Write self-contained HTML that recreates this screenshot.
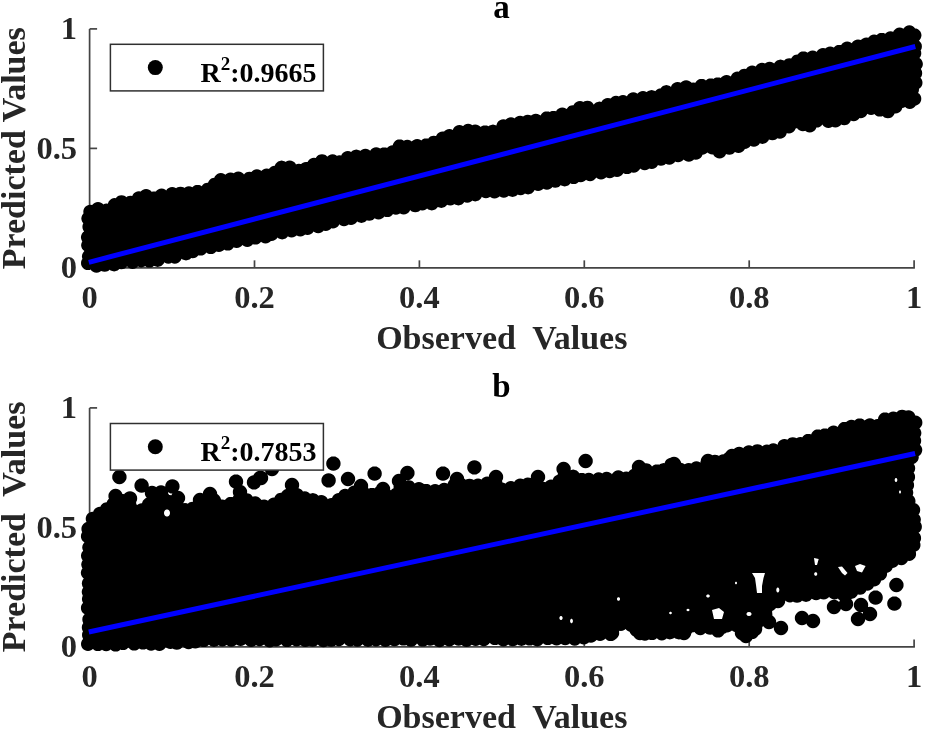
<!DOCTYPE html>
<html><head><meta charset="utf-8"><style>
html,body{margin:0;padding:0;background:#fff;}
svg{display:block;}
text{font-family:"Liberation Serif","Times New Roman",serif;font-weight:bold;}
.tk{font-size:32.5px;fill:#262626;}
.lb{font-size:34px;fill:#262626;}
.tt{font-size:33px;fill:#000;}
.lg{font-size:28px;fill:#000;}
.sup{font-size:19px;}
</style></head><body>
<svg width="925" height="730" viewBox="0 0 925 730">
<rect width="925" height="730" fill="#fff"/>
<line x1="89.6" y1="28.9" x2="97.1" y2="28.9" stroke="#444" stroke-width="1.7"/>
<line x1="89.6" y1="148.4" x2="97.1" y2="148.4" stroke="#444" stroke-width="1.7"/>
<line x1="89.6" y1="267.9" x2="97.1" y2="267.9" stroke="#444" stroke-width="1.7"/>
<line x1="914.1" y1="267.85" x2="914.1" y2="260.35" stroke="#444" stroke-width="1.7"/>
<line x1="749.2" y1="267.85" x2="749.2" y2="260.35" stroke="#444" stroke-width="1.7"/>
<line x1="584.3" y1="267.85" x2="584.3" y2="260.35" stroke="#444" stroke-width="1.7"/>
<line x1="419.4" y1="267.85" x2="419.4" y2="260.35" stroke="#444" stroke-width="1.7"/>
<line x1="254.5" y1="267.85" x2="254.5" y2="260.35" stroke="#444" stroke-width="1.7"/>
<line x1="89.6" y1="267.85" x2="89.6" y2="260.35" stroke="#444" stroke-width="1.7"/>
<path d="M89.6,28.9 V267.85 H914.9" fill="none" stroke="#444" stroke-width="1.7"/>
<g fill="#000"><path fill-rule="evenodd" d="M236.5,171.8 L234.8,172.5 L233.8,173.3 L232.4,172.7 L230.5,172.5 L228.7,172.7 L227.0,173.4 L225.6,174.5 L225.4,174.8 L224.3,174.0 L222.6,173.3 L220.8,173.1 L219.0,173.3 L217.3,174.0 L215.9,175.2 L214.8,176.6 L214.3,177.7 L212.9,177.9 L211.2,178.6 L209.8,179.7 L208.7,181.2 L208.0,182.7 L207.7,182.7 L205.9,182.9 L204.2,183.6 L202.8,184.8 L201.7,186.2 L201.6,186.3 L201.1,185.8 L199.4,185.1 L197.6,184.9 L195.8,185.1 L194.1,185.8 L192.6,186.9 L192.4,187.2 L192.4,187.2 L190.7,186.5 L188.9,186.3 L187.1,186.5 L185.4,187.2 L184.4,187.9 L184.0,187.6 L182.3,186.9 L180.5,186.7 L178.7,186.9 L177.0,187.6 L176.1,188.3 L175.7,187.9 L174.0,187.2 L172.2,187.0 L170.4,187.2 L168.7,187.9 L167.2,189.0 L166.2,190.4 L165.1,189.5 L163.4,188.8 L161.6,188.6 L159.8,188.8 L158.1,189.5 L156.7,190.6 L155.9,191.6 L154.4,191.4 L152.6,191.6 L151.8,192.0 L151.1,191.1 L149.6,189.9 L147.9,189.2 L146.1,189.0 L144.3,189.2 L142.6,189.9 L141.2,191.1 L140.8,191.5 L140.7,191.5 L138.9,191.3 L137.1,191.5 L135.4,192.2 L133.9,193.3 L132.8,194.8 L132.3,195.9 L130.6,195.7 L128.8,195.9 L127.1,196.6 L126.4,197.2 L125.0,196.1 L123.3,195.4 L121.5,195.2 L119.7,195.4 L118.0,196.1 L116.6,197.2 L115.8,198.2 L114.7,198.1 L112.9,198.3 L111.2,199.0 L109.8,200.2 L108.7,201.6 L108.0,203.3 L107.9,203.8 L106.6,203.6 L104.8,203.8 L103.3,204.5 L103.0,204.0 L101.5,202.9 L99.8,202.2 L98.0,201.9 L96.2,202.2 L94.5,202.9 L93.1,204.0 L92.2,205.1 L92.1,205.0 L90.3,204.8 L88.5,205.0 L86.8,205.7 L85.3,206.8 L84.2,208.3 L83.5,210.0 L83.3,211.8 L83.5,213.4 L83.4,213.5 L82.3,215.0 L81.6,216.7 L81.3,218.5 L81.6,220.3 L82.3,222.0 L83.3,223.3 L82.6,225.0 L82.4,226.8 L82.6,228.6 L83.3,230.3 L84.1,231.4 L83.0,232.3 L81.9,233.7 L81.2,235.4 L80.9,237.2 L81.2,239.0 L81.9,240.7 L82.3,241.3 L82.1,241.7 L81.4,243.4 L81.1,245.2 L81.4,247.0 L82.1,248.7 L83.2,250.1 L84.4,251.1 L84.0,251.4 L82.9,252.9 L82.2,254.5 L81.9,256.4 L82.2,258.2 L82.5,258.9 L81.9,259.6 L81.2,261.3 L81.0,263.1 L81.2,264.9 L81.9,266.6 L83.0,268.1 L84.5,269.2 L86.2,269.9 L88.0,270.1 L89.8,269.9 L90.7,269.5 L91.5,270.7 L93.0,271.8 L94.7,272.5 L96.5,272.7 L98.3,272.5 L100.0,271.8 L101.1,270.9 L101.2,270.9 L102.8,271.6 L104.7,271.8 L106.5,271.6 L108.2,270.9 L109.6,269.8 L109.7,269.7 L110.6,270.4 L112.3,271.1 L114.1,271.4 L116.0,271.1 L117.6,270.4 L119.1,269.3 L119.3,269.0 L119.5,269.1 L121.3,269.3 L123.1,269.1 L124.8,268.4 L126.3,267.3 L127.1,266.2 L127.6,266.9 L129.1,268.0 L130.8,268.7 L132.6,269.0 L134.4,268.7 L136.1,268.0 L137.5,266.9 L137.9,266.5 L139.4,267.1 L141.2,267.4 L143.1,267.1 L144.7,266.4 L145.1,266.1 L145.9,266.7 L147.6,267.4 L149.4,267.6 L151.2,267.4 L152.9,266.7 L154.0,265.8 L154.2,265.9 L155.9,266.6 L157.7,266.9 L159.5,266.6 L161.2,265.9 L162.6,264.8 L163.8,263.4 L164.2,262.2 L164.9,262.7 L166.6,263.4 L168.4,263.7 L170.2,263.4 L171.6,262.8 L173.0,263.4 L174.8,263.7 L176.6,263.4 L178.3,262.7 L179.8,261.6 L180.9,260.2 L181.5,258.7 L182.5,259.4 L184.2,260.1 L186.0,260.4 L187.8,260.1 L189.5,259.4 L191.0,258.3 L191.1,258.1 L192.5,258.3 L194.4,258.1 L196.0,257.4 L197.5,256.3 L198.3,255.2 L198.8,255.4 L200.6,255.6 L202.4,255.4 L204.1,254.7 L205.6,253.6 L206.4,252.5 L207.3,253.2 L209.0,253.9 L210.8,254.1 L212.6,253.9 L214.3,253.2 L215.7,252.1 L216.2,251.4 L217.1,251.8 L218.9,252.0 L220.7,251.8 L222.4,251.1 L223.9,249.9 L224.1,249.6 L224.3,249.7 L226.0,250.4 L227.8,250.6 L229.6,250.4 L231.3,249.7 L232.7,248.6 L233.7,247.3 L234.8,247.8 L236.7,248.1 L238.5,247.8 L240.2,247.1 L241.6,246.0 L242.4,244.9 L243.8,246.0 L245.5,246.7 L247.3,246.9 L249.1,246.7 L250.8,246.0 L252.2,244.9 L252.9,244.1 L253.6,244.4 L255.4,244.6 L257.2,244.4 L258.9,243.7 L260.4,242.6 L261.0,241.8 L262.0,242.6 L263.7,243.3 L265.5,243.5 L267.3,243.3 L269.0,242.6 L270.4,241.4 L270.8,240.9 L271.4,241.0 L273.3,240.8 L274.9,240.1 L276.4,239.0 L277.5,237.6 L278.7,238.5 L280.3,239.1 L282.2,239.4 L284.0,239.1 L285.7,238.5 L287.1,237.3 L287.9,236.3 L288.1,236.5 L289.8,237.2 L291.6,237.4 L293.4,237.2 L295.1,236.5 L296.5,235.4 L296.8,235.6 L298.5,236.3 L300.3,236.5 L302.1,236.3 L303.8,235.6 L305.2,234.5 L305.7,234.7 L307.5,234.9 L309.3,234.7 L311.0,234.0 L312.5,232.9 L313.5,231.5 L314.7,232.3 L316.3,233.0 L318.2,233.3 L320.0,233.0 L321.7,232.3 L323.1,231.2 L323.6,230.6 L323.9,230.7 L325.7,230.9 L327.5,230.7 L329.2,230.0 L330.7,228.9 L331.1,228.3 L332.9,228.5 L334.7,228.3 L336.4,227.6 L337.9,226.4 L339.0,225.0 L339.3,224.3 L340.5,225.3 L342.2,226.0 L344.0,226.2 L345.8,226.0 L347.5,225.3 L348.6,224.4 L349.2,224.7 L351.0,224.9 L352.8,224.7 L354.5,224.0 L356.0,222.9 L357.1,221.4 L357.1,221.3 L357.9,221.9 L359.6,222.6 L361.4,222.9 L363.2,222.6 L364.9,221.9 L366.4,220.8 L366.7,220.3 L367.4,220.6 L369.2,220.8 L371.0,220.6 L372.7,219.9 L374.2,218.8 L374.5,218.2 L375.0,218.6 L376.7,219.3 L378.5,219.6 L380.4,219.3 L382.0,218.6 L383.5,217.5 L384.3,216.4 L385.5,216.9 L387.3,217.1 L389.1,216.9 L390.8,216.2 L392.2,215.1 L393.0,214.1 L394.1,214.5 L395.9,214.8 L397.7,214.5 L399.4,213.8 L400.0,213.4 L400.2,213.6 L401.9,214.3 L403.7,214.5 L405.5,214.3 L407.2,213.6 L408.6,212.4 L409.7,211.0 L410.1,210.0 L410.3,210.3 L411.8,211.4 L413.5,212.1 L415.3,212.3 L417.1,212.1 L418.8,211.4 L420.2,210.3 L420.4,210.1 L420.5,210.2 L422.3,210.4 L424.1,210.2 L425.8,209.5 L427.1,208.5 L428.3,209.4 L430.0,210.1 L431.8,210.4 L433.6,210.1 L435.3,209.4 L436.7,208.3 L437.8,206.9 L439.5,207.6 L441.3,207.9 L443.1,207.6 L444.8,206.9 L446.2,205.8 L447.1,204.7 L448.5,205.3 L450.3,205.6 L452.1,205.3 L453.8,204.6 L454.5,204.1 L454.9,204.4 L456.6,205.1 L458.4,205.4 L460.2,205.1 L461.9,204.4 L463.3,203.3 L464.3,202.1 L465.4,202.5 L467.2,202.8 L469.1,202.5 L470.7,201.8 L472.2,200.7 L472.2,200.6 L473.4,201.1 L475.2,201.4 L477.0,201.1 L478.7,200.4 L480.2,199.3 L481.3,197.9 L481.7,196.8 L482.4,197.3 L484.1,198.0 L485.9,198.3 L487.7,198.0 L489.4,197.3 L490.1,196.8 L491.0,197.5 L492.7,198.2 L494.5,198.4 L496.3,198.2 L498.0,197.5 L499.5,196.4 L499.6,196.3 L500.3,196.8 L502.0,197.5 L503.8,197.8 L505.6,197.5 L507.3,196.8 L508.7,195.7 L508.8,195.7 L509.0,195.9 L510.7,196.6 L512.5,196.9 L514.4,196.6 L516.0,195.9 L517.5,194.8 L517.7,194.5 L518.8,194.9 L520.6,195.2 L522.4,194.9 L524.1,194.2 L524.9,193.6 L526.2,194.1 L528.1,194.4 L529.9,194.1 L531.6,193.4 L533.0,192.3 L534.1,190.9 L534.5,190.0 L534.6,190.1 L536.3,190.8 L538.1,191.0 L539.9,190.8 L541.6,190.1 L543.1,188.9 L543.3,188.7 L543.4,188.8 L545.1,189.5 L546.9,189.7 L548.7,189.5 L550.4,188.8 L551.8,187.7 L552.3,187.1 L553.4,187.6 L555.2,187.8 L557.0,187.6 L558.7,186.9 L560.2,185.8 L560.7,185.1 L561.2,185.4 L562.9,186.1 L564.7,186.4 L566.5,186.1 L568.2,185.4 L569.6,184.3 L570.4,183.3 L571.8,183.9 L573.6,184.1 L575.5,183.9 L577.1,183.2 L578.6,182.1 L578.7,181.9 L578.8,182.0 L580.7,182.2 L582.5,182.0 L584.2,181.3 L585.6,180.2 L586.0,179.7 L586.6,180.2 L588.3,180.9 L590.1,181.2 L591.9,180.9 L593.6,180.2 L595.0,179.1 L596.2,177.7 L596.2,177.6 L597.5,178.6 L599.2,179.3 L601.0,179.6 L602.9,179.3 L604.5,178.6 L606.0,177.5 L606.2,177.2 L606.2,177.2 L607.9,177.9 L609.7,178.2 L611.5,177.9 L613.2,177.2 L614.3,176.4 L615.2,176.8 L617.0,177.0 L618.9,176.8 L620.5,176.1 L622.0,175.0 L623.1,173.5 L623.3,173.1 L623.5,173.2 L625.2,173.9 L627.0,174.1 L628.8,173.9 L630.5,173.2 L631.6,172.3 L631.9,172.4 L633.7,172.7 L635.5,172.4 L637.2,171.7 L638.7,170.6 L639.8,169.2 L640.1,168.4 L641.2,169.2 L642.9,169.9 L644.7,170.2 L646.5,169.9 L648.2,169.2 L649.2,168.5 L649.9,168.8 L651.7,169.0 L653.5,168.8 L655.2,168.1 L656.6,167.0 L657.7,165.5 L657.9,165.1 L659.1,165.6 L660.9,165.8 L662.7,165.6 L664.4,164.9 L665.8,163.8 L665.8,163.8 L667.5,164.5 L669.3,164.7 L671.2,164.5 L672.8,163.8 L674.3,162.7 L675.1,161.6 L676.2,162.0 L678.1,162.3 L679.9,162.0 L681.6,161.3 L683.0,160.2 L683.6,159.4 L683.8,159.7 L685.3,160.8 L687.0,161.5 L688.8,161.8 L690.6,161.5 L692.3,160.8 L693.7,159.7 L693.9,159.5 L694.0,159.5 L695.8,159.8 L697.6,159.5 L699.3,158.8 L700.8,157.7 L701.9,156.3 L702.5,154.7 L704.0,154.5 L705.7,153.8 L707.1,152.7 L707.4,152.4 L707.4,152.4 L708.9,153.6 L710.6,154.3 L712.4,154.5 L713.3,154.4 L713.5,154.9 L714.6,156.4 L716.1,157.5 L717.8,158.2 L719.6,158.4 L721.4,158.2 L723.1,157.5 L724.5,156.4 L725.6,154.9 L726.0,154.0 L727.5,154.6 L729.3,154.8 L731.1,154.6 L732.8,153.9 L734.3,152.8 L734.8,152.0 L735.0,152.1 L736.7,152.8 L738.5,153.1 L740.3,152.8 L742.0,152.1 L743.4,151.0 L744.6,149.6 L744.8,149.0 L746.5,148.7 L748.1,148.0 L749.6,146.9 L750.5,145.8 L752.0,146.5 L753.9,146.7 L755.7,146.5 L757.4,145.8 L758.8,144.7 L759.8,143.3 L760.6,143.6 L762.4,143.9 L764.3,143.6 L765.9,142.9 L767.4,141.8 L768.5,140.4 L768.9,139.4 L770.6,140.1 L772.4,140.3 L774.2,140.1 L775.9,139.4 L777.3,138.2 L777.4,138.2 L778.1,138.5 L779.9,138.7 L781.7,138.5 L783.4,137.8 L784.9,136.7 L786.0,135.2 L786.7,133.5 L786.7,133.1 L787.1,133.3 L788.9,133.5 L790.7,133.3 L792.4,132.6 L793.8,131.5 L795.0,130.0 L795.6,128.4 L796.0,128.4 L797.0,128.0 L797.9,129.2 L799.4,130.3 L801.1,131.0 L802.9,131.2 L804.7,131.0 L805.2,130.8 L806.2,131.6 L807.9,132.3 L809.7,132.5 L811.6,132.3 L813.2,131.6 L814.7,130.5 L815.8,129.0 L816.4,127.6 L816.6,127.6 L818.4,127.4 L820.1,126.7 L821.6,125.6 L822.4,124.5 L823.5,125.9 L824.9,127.0 L826.6,127.7 L828.4,127.9 L830.2,127.7 L831.9,127.0 L832.3,126.7 L833.6,127.2 L835.4,127.4 L837.2,127.2 L838.9,126.5 L840.4,125.4 L841.1,124.5 L842.4,125.1 L844.2,125.3 L846.0,125.1 L847.7,124.4 L849.2,123.2 L850.3,121.8 L850.8,120.5 L851.9,120.9 L853.7,121.2 L855.5,120.9 L857.2,120.2 L858.7,119.1 L859.5,118.1 L860.7,118.2 L862.5,118.0 L864.2,117.3 L865.7,116.2 L866.8,114.7 L867.2,113.8 L867.6,114.1 L869.3,114.8 L871.1,115.0 L872.9,114.8 L874.5,114.1 L874.8,114.5 L876.3,115.7 L877.9,116.4 L879.8,116.6 L881.6,116.4 L882.7,115.9 L883.0,116.3 L884.4,117.4 L886.1,118.1 L887.9,118.3 L889.8,118.1 L891.4,117.4 L892.9,116.3 L894.0,114.8 L894.6,113.4 L895.5,113.5 L897.3,113.3 L899.0,112.6 L900.4,111.4 L901.6,110.0 L902.2,108.3 L902.3,107.9 L903.6,107.7 L905.2,107.1 L906.3,108.0 L908.0,108.7 L909.8,108.9 L911.6,108.7 L913.3,108.0 L914.8,106.8 L915.8,105.6 L916.2,105.5 L917.8,104.8 L919.3,103.7 L920.4,102.3 L921.1,100.6 L921.3,98.8 L921.1,97.0 L920.4,95.3 L919.3,93.8 L918.0,92.9 L918.1,92.9 L918.8,91.2 L919.0,89.4 L918.9,88.8 L919.0,88.8 L920.4,87.7 L921.6,86.2 L922.3,84.5 L922.5,82.7 L922.3,80.9 L921.6,79.2 L920.4,77.8 L920.4,77.8 L921.3,76.7 L922.0,75.0 L922.2,73.2 L922.0,71.3 L921.3,69.7 L920.8,69.0 L920.8,69.0 L921.9,67.6 L922.6,65.9 L922.9,64.1 L922.6,62.2 L921.9,60.6 L920.8,59.1 L919.4,58.1 L920.4,56.8 L921.1,55.1 L921.3,53.3 L921.1,51.5 L920.6,50.4 L921.0,49.9 L921.7,48.2 L921.9,46.4 L921.7,44.6 L921.0,42.9 L919.8,41.5 L918.9,40.7 L919.4,40.3 L920.5,38.8 L921.2,37.1 L921.5,35.3 L921.2,33.5 L920.5,31.8 L919.4,30.4 L918.0,29.3 L916.3,28.6 L915.1,28.4 L914.3,27.4 L912.9,26.3 L911.2,25.6 L909.4,25.3 L907.6,25.6 L905.9,26.3 L904.4,27.4 L903.4,28.8 L903.1,28.5 L901.4,27.8 L899.6,27.6 L897.8,27.8 L896.1,28.5 L894.7,29.7 L893.5,31.1 L893.2,31.9 L892.3,31.5 L890.5,31.3 L888.7,31.5 L887.0,32.2 L885.5,33.4 L885.2,33.8 L883.6,33.1 L881.8,32.9 L879.9,33.1 L878.3,33.8 L876.8,34.9 L876.6,35.1 L875.9,34.8 L874.1,34.6 L872.3,34.8 L870.6,35.5 L869.2,36.7 L868.3,37.8 L868.2,37.7 L866.4,37.5 L864.6,37.7 L862.9,38.4 L861.4,39.5 L861.0,40.1 L859.8,39.7 L858.0,39.4 L856.2,39.7 L854.5,40.4 L853.0,41.5 L851.9,42.9 L851.8,43.2 L850.7,42.4 L849.0,41.7 L847.2,41.4 L845.4,41.7 L843.7,42.4 L842.3,43.5 L841.2,44.9 L841.1,45.1 L839.3,44.9 L837.5,45.1 L835.8,45.8 L834.4,46.9 L833.9,47.6 L833.7,47.4 L832.0,46.7 L830.2,46.5 L828.4,46.7 L826.7,47.4 L825.3,48.4 L824.8,48.2 L823.0,48.0 L821.2,48.2 L819.5,48.9 L818.0,50.0 L816.9,51.5 L816.7,51.9 L816.2,51.5 L814.5,50.8 L812.7,50.5 L810.8,50.8 L809.2,51.5 L807.7,52.6 L807.6,52.8 L806.9,52.3 L805.2,51.6 L803.4,51.4 L801.6,51.6 L799.9,52.3 L798.5,53.4 L797.7,54.4 L797.5,54.4 L795.7,54.7 L794.0,55.3 L792.6,56.5 L791.5,57.9 L791.2,58.5 L791.2,58.4 L789.4,58.2 L787.6,58.4 L785.9,59.1 L784.4,60.3 L784.1,60.7 L784.0,60.6 L782.3,59.9 L780.5,59.6 L778.7,59.9 L777.0,60.6 L775.5,61.7 L774.4,63.1 L774.2,63.6 L773.1,62.7 L771.4,62.0 L769.6,61.8 L767.8,62.0 L766.1,62.7 L765.0,63.5 L763.8,63.0 L762.0,62.8 L760.2,63.0 L758.5,63.7 L757.1,64.8 L755.9,66.3 L755.9,66.5 L755.7,66.4 L754.0,65.7 L752.2,65.4 L750.4,65.7 L748.7,66.4 L747.2,67.5 L746.1,68.9 L744.5,68.7 L742.7,68.9 L741.0,69.6 L739.6,70.7 L738.8,71.7 L737.5,71.5 L735.7,71.7 L734.0,72.4 L732.6,73.6 L731.5,75.0 L730.8,76.5 L730.1,75.9 L728.4,75.2 L726.6,75.0 L724.8,75.2 L723.1,75.9 L721.6,77.0 L720.8,78.1 L719.6,77.6 L717.8,77.4 L716.0,77.6 L714.3,78.3 L713.4,79.0 L712.6,78.6 L710.8,78.4 L709.0,78.6 L707.3,79.3 L705.9,80.4 L705.1,79.8 L703.4,79.1 L701.6,78.9 L699.8,79.1 L698.1,79.8 L696.6,80.9 L695.5,82.4 L695.3,82.8 L695.1,82.8 L693.3,82.5 L691.5,82.8 L691.5,82.8 L691.1,82.3 L689.6,81.2 L687.9,80.5 L686.1,80.2 L684.3,80.5 L682.6,81.2 L681.2,82.3 L680.8,82.8 L679.4,82.2 L677.6,82.0 L675.8,82.2 L674.1,82.9 L672.6,84.0 L671.5,85.5 L671.0,86.9 L669.9,86.1 L668.2,85.4 L666.4,85.1 L664.6,85.4 L662.9,86.1 L661.5,87.2 L660.5,88.4 L659.1,88.6 L657.4,89.3 L655.9,90.4 L655.3,91.2 L655.1,91.1 L653.4,90.4 L651.6,90.1 L649.8,90.4 L648.1,91.1 L646.8,92.1 L646.5,91.9 L644.8,91.2 L643.0,90.9 L641.2,91.2 L639.5,91.9 L638.1,93.0 L637.5,93.8 L636.8,93.2 L635.1,92.5 L633.3,92.3 L631.5,92.5 L629.8,93.2 L628.3,94.3 L627.2,95.8 L627.0,96.4 L626.5,96.0 L624.8,95.3 L623.0,95.1 L621.2,95.3 L619.5,96.0 L618.9,96.5 L617.8,96.1 L616.0,95.8 L614.2,96.1 L612.5,96.8 L611.1,97.9 L610.5,98.6 L609.6,98.2 L607.8,98.0 L605.9,98.2 L604.3,98.9 L602.8,100.0 L601.7,101.5 L601.5,102.0 L601.3,101.9 L599.5,101.6 L597.7,101.9 L596.0,102.6 L594.5,103.7 L593.7,104.7 L593.5,104.2 L592.4,102.8 L590.9,101.6 L589.3,100.9 L587.4,100.7 L585.6,100.9 L583.9,101.6 L583.5,102.0 L583.5,102.0 L581.8,101.3 L580.0,101.1 L578.1,101.3 L576.5,102.0 L575.0,103.1 L573.9,104.6 L573.6,105.3 L572.9,105.2 L571.1,105.4 L569.4,106.1 L568.0,107.2 L566.9,108.7 L566.7,109.1 L565.8,108.4 L564.1,107.7 L562.3,107.5 L560.5,107.7 L558.8,108.4 L557.3,109.5 L556.2,111.0 L556.1,111.4 L555.4,111.1 L553.6,110.9 L551.8,111.1 L550.1,111.8 L549.8,112.1 L548.7,111.6 L546.8,111.4 L545.0,111.6 L543.3,112.3 L541.9,113.4 L540.8,114.9 L540.5,115.6 L539.3,114.7 L537.6,114.0 L535.8,113.8 L534.0,114.0 L532.3,114.7 L531.1,115.6 L529.5,115.0 L527.7,114.8 L525.9,115.0 L524.2,115.7 L523.1,116.5 L521.9,116.0 L520.1,115.8 L518.2,116.0 L516.6,116.7 L515.1,117.8 L514.7,118.4 L514.5,118.2 L512.8,117.5 L511.0,117.3 L509.2,117.5 L507.5,118.2 L506.1,119.3 L505.7,119.7 L505.2,119.5 L503.4,119.3 L501.6,119.5 L499.9,120.2 L498.4,121.3 L497.3,122.8 L496.6,124.5 L496.5,125.6 L496.5,125.6 L494.8,124.9 L493.0,124.6 L491.2,124.9 L489.5,125.6 L488.5,126.3 L486.9,125.6 L485.1,125.4 L483.3,125.6 L481.6,126.3 L480.5,127.1 L480.2,126.6 L478.7,125.5 L477.0,124.8 L475.2,124.6 L473.4,124.8 L472.3,125.3 L471.6,124.8 L470.0,124.1 L468.1,123.8 L466.3,124.1 L464.6,124.8 L463.2,125.9 L463.1,126.0 L462.9,125.9 L461.2,125.2 L459.4,124.9 L457.6,125.2 L455.9,125.9 L454.5,127.0 L453.4,128.4 L452.8,129.9 L451.3,129.3 L449.5,129.1 L447.7,129.3 L446.0,130.0 L444.5,131.1 L444.2,131.6 L442.6,131.4 L440.8,131.7 L439.1,132.4 L437.7,133.5 L436.6,134.9 L436.1,136.1 L435.7,135.9 L433.8,135.7 L432.0,135.9 L430.3,136.6 L428.9,137.7 L428.2,138.7 L428.0,138.6 L426.2,138.4 L424.3,138.6 L422.7,139.3 L421.2,140.4 L420.7,140.0 L419.0,139.3 L417.2,139.0 L415.4,139.3 L413.7,140.0 L412.2,141.1 L411.8,141.6 L410.8,140.7 L409.1,140.1 L407.3,139.8 L405.5,140.1 L403.8,140.7 L403.7,140.8 L403.1,140.3 L401.4,139.6 L399.6,139.4 L397.8,139.6 L396.1,140.3 L394.7,141.4 L393.6,142.9 L392.9,144.6 L392.8,145.3 L392.6,145.3 L390.8,145.5 L389.1,146.2 L387.7,147.3 L387.1,148.1 L386.0,147.6 L384.2,147.4 L382.4,147.6 L380.7,148.3 L380.3,148.6 L379.7,148.2 L378.0,147.5 L376.2,147.3 L374.4,147.5 L372.7,148.2 L371.3,149.3 L370.2,150.7 L368.9,149.7 L367.2,149.0 L365.4,148.7 L363.6,149.0 L361.9,149.7 L360.4,150.8 L360.3,151.0 L359.8,150.6 L358.1,149.9 L356.3,149.6 L354.4,149.9 L352.8,150.6 L351.3,151.7 L351.1,152.0 L349.6,151.3 L347.8,151.1 L346.0,151.3 L344.3,152.0 L342.8,153.1 L341.7,154.6 L341.3,155.5 L339.6,155.3 L337.7,155.5 L337.0,155.9 L336.1,155.2 L334.5,154.5 L332.6,154.3 L330.8,154.5 L329.1,155.2 L327.7,156.3 L327.3,156.8 L326.9,156.3 L325.5,155.1 L323.8,154.4 L322.0,154.2 L320.2,154.4 L318.5,155.1 L317.0,156.3 L315.9,157.7 L315.8,158.0 L314.0,157.7 L312.2,158.0 L310.5,158.7 L309.1,159.8 L308.0,161.2 L307.6,162.1 L306.0,161.9 L304.2,162.2 L302.5,162.9 L301.1,164.0 L301.0,164.0 L300.7,163.9 L298.9,163.7 L297.1,163.9 L295.9,164.4 L295.8,164.0 L294.7,162.5 L293.2,161.4 L291.5,160.7 L289.7,160.5 L287.9,160.7 L286.2,161.4 L285.5,161.9 L285.1,161.6 L283.4,160.9 L281.6,160.6 L279.8,160.9 L278.1,161.6 L276.7,162.7 L275.5,164.1 L274.8,165.8 L274.8,165.8 L274.7,165.8 L272.9,166.1 L271.2,166.8 L269.8,167.9 L268.9,169.0 L268.5,168.8 L266.7,168.6 L264.9,168.8 L263.2,169.5 L261.8,170.6 L261.4,171.1 L260.4,170.3 L258.7,169.6 L256.9,169.3 L255.1,169.6 L253.4,170.3 L251.9,171.4 L251.5,172.0 L251.3,171.9 L249.5,171.7 L247.7,171.9 L246.0,172.6 L244.6,173.7 L244.0,174.5 L243.2,173.6 L241.8,172.5 L240.1,171.8 L238.3,171.5Z"/></g>
<line x1="88.8" y1="262.3" x2="915.3" y2="46.5" stroke="#0000ff" stroke-width="5"/>
<text x="89.6" y="307.5" class="tk" text-anchor="middle">0</text>
<text x="254.5" y="307.5" class="tk" text-anchor="middle">0.2</text>
<text x="419.4" y="307.5" class="tk" text-anchor="middle">0.4</text>
<text x="584.3" y="307.5" class="tk" text-anchor="middle">0.6</text>
<text x="749.2" y="307.5" class="tk" text-anchor="middle">0.8</text>
<text x="914.1" y="307.5" class="tk" text-anchor="middle">1</text>
<text x="77" y="278.0" class="tk" text-anchor="end">0</text>
<text x="77" y="158.5" class="tk" text-anchor="end">0.5</text>
<text x="77" y="39.0" class="tk" text-anchor="end">1</text>
<text x="501.8" y="349.2" class="lb" text-anchor="middle" xml:space="preserve">Observed  Values</text>
<text transform="translate(25,148.2) rotate(-90)" class="lb" text-anchor="middle" xml:space="preserve">Predicted Values</text>
<text x="501.5" y="18.2" class="tt" text-anchor="middle">a</text>
<rect x="110.4" y="44.3" width="213.0" height="46.6" fill="#fff" stroke="#303030" stroke-width="1.5"/>
<circle cx="155.3" cy="67.6" r="7.5" fill="#000"/>
<text x="200.5" y="81.9" class="lg">R<tspan class="sup" dy="-12">2</tspan><tspan dy="12">:0.9665</tspan></text>
<line x1="89.6" y1="407.9" x2="97.1" y2="407.9" stroke="#444" stroke-width="1.7"/>
<line x1="89.6" y1="527.4" x2="97.1" y2="527.4" stroke="#444" stroke-width="1.7"/>
<line x1="89.6" y1="646.9" x2="97.1" y2="646.9" stroke="#444" stroke-width="1.7"/>
<line x1="914.1" y1="646.9" x2="914.1" y2="639.4" stroke="#444" stroke-width="1.7"/>
<line x1="749.2" y1="646.9" x2="749.2" y2="639.4" stroke="#444" stroke-width="1.7"/>
<line x1="584.3" y1="646.9" x2="584.3" y2="639.4" stroke="#444" stroke-width="1.7"/>
<line x1="419.4" y1="646.9" x2="419.4" y2="639.4" stroke="#444" stroke-width="1.7"/>
<line x1="254.5" y1="646.9" x2="254.5" y2="639.4" stroke="#444" stroke-width="1.7"/>
<line x1="89.6" y1="646.9" x2="89.6" y2="639.4" stroke="#444" stroke-width="1.7"/>
<path d="M89.6,407.95 V646.9 H914.9" fill="none" stroke="#444" stroke-width="1.7"/>
<g fill="#000"><path fill-rule="evenodd" d="M125.6,473.4 L124.5,471.9 L123.0,470.8 L121.3,470.0 L119.4,469.8 L117.5,470.0 L115.8,470.8 L114.3,471.9 L113.2,473.4 L112.4,475.1 L112.2,477.0 L112.4,478.9 L113.2,480.6 L114.3,482.1 L115.8,483.2 L117.5,484.0 L119.4,484.2 L121.3,484.0 L123.0,483.2 L124.5,482.1 L125.6,480.6 L126.4,478.9 L126.6,477.0 L126.4,475.1ZM144.1,499.4 L142.9,500.8 L142.2,502.5 L142.1,503.3 L141.8,503.2 L140.0,503.5 L138.3,504.2 L137.4,504.9 L136.9,504.6 L136.2,504.5 L136.3,504.0 L136.1,502.2 L136.2,502.0 L137.0,500.3 L137.2,498.4 L137.0,496.5 L136.2,494.8 L135.1,493.3 L133.6,492.2 L131.9,491.4 L130.0,491.2 L128.1,491.4 L126.4,492.2 L124.9,493.3 L124.1,494.3 L123.3,494.0 L122.4,493.9 L121.8,492.4 L120.7,490.9 L119.2,489.8 L117.5,489.0 L115.6,488.8 L113.7,489.0 L112.0,489.8 L110.5,490.9 L109.4,492.4 L108.6,494.1 L108.4,496.0 L108.6,497.9 L109.0,498.8 L108.4,499.3 L107.3,500.7 L106.7,502.2 L105.2,502.4 L103.5,503.1 L102.0,504.2 L100.9,505.6 L100.4,506.8 L99.9,506.7 L98.1,507.0 L96.4,507.7 L94.9,508.8 L93.8,510.2 L93.2,511.8 L92.7,511.8 L90.9,512.0 L89.2,512.7 L87.7,513.8 L86.6,515.3 L85.9,516.9 L85.7,518.8 L85.9,520.6 L86.5,522.1 L84.9,522.8 L83.4,523.9 L82.3,525.4 L81.6,527.1 L81.4,528.9 L81.6,530.7 L82.2,532.2 L81.8,532.8 L81.1,534.5 L80.9,536.3 L81.1,538.1 L81.8,539.8 L82.9,541.2 L84.4,542.3 L84.4,542.3 L84.3,542.4 L83.2,543.9 L82.5,545.5 L82.2,547.4 L82.5,549.2 L83.2,550.8 L83.0,550.9 L81.9,552.3 L81.2,554.0 L81.0,555.8 L81.2,557.6 L81.9,559.3 L82.7,560.3 L82.2,561.0 L81.5,562.7 L81.2,564.5 L81.5,566.3 L82.2,568.0 L82.5,568.4 L81.8,569.3 L81.1,571.0 L80.8,572.8 L81.1,574.7 L81.8,576.3 L82.9,577.8 L83.8,578.5 L82.7,579.9 L82.1,581.6 L81.8,583.4 L82.1,585.2 L82.7,586.9 L83.3,587.6 L82.7,588.4 L82.0,590.1 L81.7,591.9 L82.0,593.8 L82.7,595.4 L82.8,595.6 L82.2,597.2 L81.9,599.0 L82.2,600.9 L82.9,602.5 L83.1,602.9 L82.9,603.0 L81.8,604.4 L81.1,606.1 L80.9,607.9 L81.1,609.7 L81.8,611.4 L82.9,612.9 L84.4,614.0 L84.8,614.2 L84.3,614.5 L83.2,615.9 L82.5,617.6 L82.3,619.4 L82.5,621.3 L83.2,622.9 L83.3,623.1 L82.7,623.9 L82.0,625.6 L81.8,627.4 L82.0,629.2 L82.7,630.9 L83.0,631.3 L82.9,631.4 L82.2,633.1 L82.0,634.9 L82.2,636.8 L82.9,638.4 L83.2,638.9 L83.0,639.1 L81.9,640.5 L81.2,642.2 L81.0,644.0 L81.2,645.8 L81.9,647.5 L83.0,649.0 L84.5,650.1 L86.2,650.8 L88.0,651.0 L89.8,650.8 L91.5,650.1 L92.9,649.0 L93.0,649.1 L94.4,650.2 L96.1,650.9 L97.9,651.1 L99.7,650.9 L101.4,650.2 L102.0,649.7 L102.7,650.2 L104.3,650.9 L106.2,651.2 L108.0,650.9 L109.7,650.2 L110.6,649.5 L110.7,649.6 L112.1,650.7 L113.8,651.4 L115.6,651.6 L117.5,651.4 L119.1,650.7 L120.5,649.6 L121.1,649.9 L123.0,650.1 L124.8,649.9 L126.5,649.2 L127.9,648.0 L128.4,647.4 L129.3,648.5 L130.7,649.7 L132.4,650.4 L134.2,650.6 L136.0,650.4 L137.7,649.7 L139.2,648.5 L139.2,648.5 L139.5,648.7 L141.2,649.4 L143.0,649.6 L144.8,649.4 L146.2,648.8 L147.6,649.8 L149.3,650.5 L151.1,650.8 L152.9,650.5 L154.6,649.8 L155.1,649.4 L155.9,650.0 L157.6,650.7 L159.4,651.0 L161.2,650.7 L162.9,650.0 L164.4,648.9 L165.5,647.5 L165.6,647.1 L166.9,648.1 L168.6,648.8 L170.4,649.0 L172.2,648.8 L172.9,648.5 L173.3,648.9 L175.0,649.6 L176.8,649.8 L178.6,649.6 L180.3,648.9 L181.8,647.8 L182.9,646.3 L182.9,646.2 L183.6,647.2 L185.1,648.3 L186.8,649.0 L188.6,649.2 L190.4,649.0 L192.1,648.3 L192.6,647.9 L193.5,648.3 L195.3,648.5 L197.1,648.3 L198.8,647.6 L200.3,646.5 L200.4,646.3 L201.9,646.9 L203.7,647.1 L205.5,646.9 L207.2,646.2 L208.6,645.1 L208.9,644.7 L209.0,644.8 L210.5,645.9 L212.1,646.6 L214.0,646.9 L215.8,646.6 L217.5,645.9 L218.5,645.2 L218.9,645.5 L220.5,646.2 L222.4,646.4 L224.2,646.2 L225.9,645.5 L226.6,644.9 L227.8,645.8 L229.5,646.5 L231.3,646.8 L233.1,646.5 L234.8,645.8 L236.3,644.7 L236.4,644.5 L237.1,645.0 L238.7,645.7 L240.6,646.0 L242.4,645.7 L244.1,645.0 L245.5,643.9 L245.5,643.9 L246.3,644.9 L247.7,646.0 L249.4,646.7 L251.2,646.9 L253.0,646.7 L254.7,646.0 L255.9,645.1 L256.1,645.3 L257.8,646.0 L259.6,646.2 L261.4,646.0 L263.1,645.3 L264.1,644.5 L264.7,645.4 L266.2,646.5 L267.9,647.2 L269.7,647.4 L271.5,647.2 L273.2,646.5 L273.8,646.0 L274.3,646.2 L276.1,646.5 L277.9,646.2 L279.6,645.5 L281.0,644.4 L281.2,644.1 L282.0,645.1 L283.4,646.2 L285.1,646.9 L286.9,647.1 L288.7,646.9 L290.4,646.2 L291.9,645.1 L292.0,644.8 L293.1,645.6 L294.8,646.3 L296.6,646.6 L298.4,646.3 L300.1,645.6 L300.6,645.2 L301.8,646.1 L303.4,646.8 L305.3,647.0 L307.1,646.8 L308.8,646.1 L309.1,645.8 L309.2,645.9 L310.9,646.6 L312.7,646.8 L314.5,646.6 L316.2,645.9 L317.6,644.8 L317.9,644.5 L318.5,645.2 L319.9,646.3 L321.6,647.0 L323.4,647.3 L325.3,647.0 L326.9,646.3 L327.7,645.8 L327.8,645.9 L329.5,646.6 L331.3,646.8 L333.1,646.6 L334.8,645.9 L335.6,645.3 L337.1,645.9 L338.9,646.2 L340.7,645.9 L342.4,645.2 L343.9,644.1 L344.5,643.3 L345.3,644.4 L346.7,645.5 L348.4,646.2 L350.2,646.4 L352.0,646.2 L353.6,645.5 L353.9,645.7 L355.5,646.4 L357.4,646.7 L359.2,646.4 L360.9,645.7 L362.3,644.6 L362.6,644.3 L363.0,644.8 L364.5,645.9 L366.2,646.6 L368.0,646.9 L369.8,646.6 L371.5,645.9 L372.3,645.3 L372.5,645.5 L374.2,646.2 L376.0,646.4 L377.8,646.2 L379.5,645.5 L380.3,644.8 L380.5,645.0 L381.9,646.1 L383.6,646.8 L385.4,647.0 L387.2,646.8 L388.9,646.1 L390.4,645.0 L390.4,644.9 L391.0,645.4 L392.6,646.1 L394.5,646.3 L396.3,646.1 L398.0,645.4 L399.4,644.3 L399.9,644.7 L401.6,645.4 L403.4,645.6 L405.2,645.4 L406.3,644.9 L407.5,645.9 L409.2,646.6 L411.0,646.8 L412.9,646.6 L414.5,645.9 L416.0,644.8 L417.0,643.4 L417.9,644.6 L419.4,645.7 L421.1,646.4 L422.9,646.6 L424.7,646.4 L426.4,645.7 L427.1,645.1 L428.3,645.6 L430.1,645.8 L431.9,645.6 L433.6,644.9 L434.0,644.6 L434.5,645.2 L436.0,646.3 L437.6,647.0 L439.5,647.3 L441.3,647.0 L443.0,646.3 L444.4,645.2 L444.8,644.7 L445.8,645.5 L447.5,646.2 L449.3,646.4 L451.1,646.2 L452.8,645.5 L454.2,644.4 L454.3,644.3 L455.1,644.8 L456.7,645.5 L458.6,645.8 L460.4,645.5 L461.6,645.0 L463.0,646.1 L464.7,646.8 L466.5,647.0 L468.3,646.8 L470.0,646.1 L471.5,645.0 L471.7,644.7 L472.2,645.1 L473.9,645.8 L475.7,646.1 L477.5,645.8 L479.2,645.1 L479.7,644.8 L480.3,645.2 L482.0,645.9 L483.8,646.2 L485.6,645.9 L487.3,645.2 L488.8,644.1 L489.8,642.8 L489.9,643.1 L491.4,644.2 L493.1,644.9 L494.9,645.1 L496.7,644.9 L498.3,644.2 L498.4,644.5 L499.9,645.6 L501.6,646.3 L503.4,646.5 L505.2,646.3 L506.9,645.6 L508.2,644.6 L509.2,645.4 L510.9,646.1 L512.7,646.3 L514.5,646.1 L516.2,645.4 L517.4,644.5 L518.0,644.9 L519.7,645.6 L521.5,645.9 L523.3,645.6 L525.0,644.9 L525.8,644.3 L526.3,644.7 L527.9,645.4 L529.8,645.6 L531.6,645.4 L532.9,644.8 L533.8,645.4 L535.4,646.1 L537.3,646.4 L539.1,646.1 L540.8,645.4 L542.2,644.3 L543.1,643.2 L544.3,644.2 L546.0,644.9 L547.8,645.1 L549.6,644.9 L551.3,644.2 L551.9,643.7 L553.1,644.6 L554.8,645.3 L556.6,645.5 L558.4,645.3 L560.1,644.6 L561.1,643.8 L561.7,644.3 L563.4,645.0 L565.2,645.2 L567.0,645.0 L568.7,644.3 L569.7,643.5 L569.8,643.6 L571.2,644.7 L572.9,645.4 L574.7,645.7 L576.6,645.4 L578.2,644.7 L579.7,643.6 L580.0,643.3 L580.3,643.6 L582.0,644.3 L583.8,644.5 L585.6,644.3 L587.3,643.6 L588.8,642.4 L588.8,642.4 L589.1,642.5 L590.9,642.7 L592.7,642.5 L594.4,641.8 L595.8,640.7 L596.2,640.2 L596.8,640.1 L598.3,640.7 L600.1,641.0 L601.9,640.7 L603.6,640.0 L605.1,638.9 L605.4,638.5 L605.8,639.0 L607.2,640.2 L608.9,640.9 L610.7,641.1 L612.5,640.9 L614.2,640.2 L615.2,639.4 L615.6,639.2 L617.1,638.1 L618.2,636.6 L619.0,634.9 L619.2,633.0 L619.0,631.4 L619.3,631.1 L619.5,630.8 L620.8,631.0 L622.6,630.8 L624.3,630.1 L625.7,629.0 L626.4,629.9 L627.8,631.0 L629.5,631.7 L629.6,631.7 L630.3,633.3 L631.4,634.8 L632.9,635.9 L633.6,636.2 L633.8,636.6 L634.9,638.1 L636.4,639.2 L638.1,640.0 L640.0,640.2 L641.8,640.0 L643.1,640.5 L644.9,640.8 L646.8,640.5 L648.4,639.8 L649.0,639.4 L650.2,639.9 L652.1,640.1 L653.9,639.9 L655.6,639.2 L656.8,638.2 L656.9,638.3 L658.3,639.5 L660.0,640.2 L661.8,640.4 L663.6,640.2 L665.3,639.5 L666.5,638.5 L668.0,639.1 L669.8,639.4 L671.6,639.1 L673.3,638.4 L674.3,637.7 L675.3,638.4 L677.0,639.1 L678.8,639.4 L680.3,639.2 L680.4,639.2 L682.1,640.0 L684.0,640.2 L685.9,640.0 L687.6,639.2 L689.1,638.1 L690.2,636.6 L691.0,634.9 L691.1,633.9 L691.9,632.8 L692.1,632.3 L692.6,632.4 L694.4,632.1 L694.5,632.1 L695.3,633.1 L696.8,634.3 L698.5,635.0 L700.3,635.2 L702.1,635.0 L703.8,634.3 L705.2,633.1 L705.4,632.9 L706.7,633.9 L708.4,634.6 L710.2,634.8 L712.0,634.6 L712.3,634.5 L713.1,635.6 L714.5,636.7 L716.2,637.4 L718.0,637.6 L719.8,637.4 L721.5,636.7 L723.0,635.6 L724.1,634.1 L724.2,633.8 L725.6,633.2 L726.6,632.5 L727.0,632.5 L728.8,632.3 L730.5,631.6 L732.0,630.5 L732.0,630.4 L733.0,631.2 L734.7,631.9 L734.9,631.9 L734.8,633.0 L735.0,634.9 L735.8,636.6 L736.9,638.1 L738.4,639.2 L740.0,639.9 L740.9,641.1 L742.4,642.2 L744.1,643.0 L746.0,643.2 L747.9,643.0 L749.6,642.2 L751.1,641.1 L752.2,639.6 L752.4,639.1 L753.9,639.0 L755.6,638.2 L757.1,637.1 L758.2,635.6 L758.4,635.2 L758.8,635.1 L760.2,634.0 L761.4,632.5 L762.0,630.8 L762.3,629.0 L762.1,627.7 L762.2,627.6 L763.0,625.9 L763.0,625.8 L763.9,627.1 L765.4,628.2 L767.1,629.0 L769.0,629.2 L770.9,629.0 L772.6,628.2 L773.9,627.2 L773.8,628.0 L774.0,629.9 L774.8,631.6 L775.9,633.1 L777.4,634.2 L779.1,635.0 L781.0,635.2 L782.9,635.0 L784.6,634.2 L786.1,633.1 L787.2,631.6 L788.0,629.9 L788.2,628.0 L788.0,626.1 L787.2,624.4 L786.1,622.9 L784.6,621.8 L782.9,621.0 L781.0,620.8 L779.1,621.0 L777.4,621.8 L776.1,622.8 L776.2,622.0 L776.0,620.1 L775.2,618.4 L774.1,616.9 L772.6,615.8 L772.3,615.6 L772.4,614.4 L772.2,612.6 L772.1,612.5 L772.2,612.0 L772.1,610.9 L773.6,610.2 L775.1,609.1 L776.0,607.9 L776.1,608.0 L778.0,608.2 L779.9,608.0 L781.6,607.2 L783.1,606.1 L784.2,604.6 L785.0,602.9 L785.2,601.0 L785.1,600.5 L786.5,601.5 L788.1,602.2 L790.0,602.4 L791.8,602.2 L793.1,601.6 L793.5,601.9 L795.2,602.6 L797.0,602.8 L798.8,602.6 L800.5,601.9 L801.9,600.8 L802.1,600.6 L802.5,600.9 L804.2,601.6 L806.0,601.9 L807.8,601.6 L809.5,600.9 L810.9,599.8 L811.8,598.7 L812.6,599.3 L814.3,600.0 L816.1,600.2 L817.9,600.0 L819.6,599.3 L820.4,598.7 L821.9,599.3 L823.7,599.5 L825.5,599.3 L827.2,598.6 L828.6,597.5 L829.1,596.8 L829.6,597.5 L831.1,598.6 L832.8,599.3 L834.6,599.6 L836.4,599.3 L838.0,598.6 L838.4,599.2 L839.9,600.3 L839.8,600.4 L839.1,601.9 L839.1,601.9 L837.6,600.8 L835.9,600.0 L834.0,599.8 L832.1,600.0 L830.4,600.8 L828.9,601.9 L827.8,603.4 L827.0,605.1 L826.8,607.0 L827.0,608.9 L827.8,610.6 L828.9,612.1 L830.4,613.2 L832.1,614.0 L834.0,614.2 L835.9,614.0 L837.6,613.2 L839.1,612.1 L840.2,610.6 L840.9,609.1 L840.9,609.1 L842.4,610.2 L844.1,611.0 L846.0,611.2 L847.9,611.0 L849.6,610.2 L851.1,609.1 L852.2,607.6 L853.0,605.9 L853.2,604.0 L853.0,602.1 L852.2,600.4 L851.1,598.9 L851.0,598.9 L851.2,598.9 L853.0,598.6 L854.7,597.9 L856.1,596.8 L857.2,595.4 L857.7,594.4 L858.2,594.6 L860.0,594.8 L861.8,594.6 L863.5,593.9 L865.0,592.8 L866.1,591.3 L866.4,590.6 L867.3,590.7 L869.2,590.5 L870.8,589.8 L872.3,588.7 L873.4,587.2 L873.7,586.5 L874.1,586.6 L875.9,586.3 L877.6,585.6 L879.1,584.5 L880.2,583.1 L880.9,581.4 L881.0,580.7 L881.9,580.6 L883.6,579.9 L885.0,578.8 L886.2,577.3 L886.9,575.6 L887.1,573.8 L887.0,572.8 L887.7,572.7 L889.4,572.0 L890.9,570.9 L892.0,569.5 L892.6,567.9 L894.0,567.7 L895.7,567.0 L897.2,565.9 L898.3,564.5 L898.3,564.4 L899.6,565.0 L901.4,565.2 L903.2,565.0 L904.9,564.3 L906.3,563.1 L907.4,561.7 L907.8,560.7 L909.1,560.9 L910.9,560.7 L912.6,560.0 L914.1,558.8 L915.2,557.4 L915.9,555.7 L916.1,553.9 L915.9,552.1 L915.7,551.6 L917.0,551.0 L918.5,549.9 L919.6,548.5 L920.3,546.8 L920.5,545.0 L920.3,543.2 L919.8,542.0 L920.2,541.6 L920.9,539.9 L921.1,538.1 L920.9,536.3 L920.2,534.6 L919.0,533.1 L918.5,532.7 L919.9,531.7 L921.0,530.2 L921.7,528.5 L921.9,526.7 L921.7,524.9 L921.0,523.2 L920.3,522.3 L920.6,521.4 L920.9,519.6 L920.6,517.8 L919.9,516.1 L918.8,514.7 L918.5,514.4 L919.3,513.4 L920.0,511.7 L920.2,509.9 L920.0,508.1 L919.3,506.4 L918.2,504.9 L916.7,503.8 L915.2,503.2 L915.3,503.1 L915.5,501.3 L915.3,499.4 L914.6,497.8 L913.5,496.3 L912.6,495.6 L913.0,494.5 L913.3,492.7 L913.0,490.8 L912.5,489.5 L913.2,488.6 L913.9,486.9 L914.1,485.1 L913.9,483.3 L913.2,481.7 L914.2,480.4 L914.9,478.7 L915.1,476.9 L914.9,475.1 L914.2,473.4 L913.6,472.6 L914.3,471.8 L915.0,470.1 L915.2,468.3 L915.0,466.5 L914.3,464.8 L913.6,463.9 L915.3,463.3 L916.7,462.1 L917.8,460.7 L918.5,459.0 L918.8,457.2 L918.6,456.0 L918.8,456.0 L920.2,454.9 L921.3,453.4 L922.0,451.7 L922.3,449.9 L922.0,448.1 L921.3,446.4 L920.2,445.0 L919.9,444.7 L920.3,444.2 L921.0,442.5 L921.2,440.7 L921.0,438.9 L920.3,437.2 L920.1,437.0 L920.4,436.6 L921.1,435.0 L921.4,433.1 L921.1,431.3 L920.4,429.6 L919.4,428.3 L920.4,427.6 L921.5,426.1 L922.2,424.4 L922.4,422.6 L922.2,420.8 L921.5,419.1 L920.4,417.7 L918.9,416.5 L917.3,415.8 L915.4,415.6 L915.4,415.6 L915.3,415.4 L914.6,413.7 L913.5,412.3 L912.1,411.2 L910.4,410.5 L908.6,410.2 L906.8,410.5 L905.9,410.8 L905.6,410.6 L903.9,409.9 L902.1,409.7 L900.3,409.9 L898.6,410.6 L897.2,411.8 L896.7,412.3 L895.1,411.7 L893.3,411.4 L891.5,411.7 L889.8,412.4 L888.5,413.4 L888.5,413.3 L886.8,412.6 L885.0,412.4 L883.2,412.6 L881.5,413.3 L880.0,414.4 L878.9,415.9 L878.2,417.5 L878.0,419.0 L877.5,419.0 L875.7,419.2 L874.2,419.9 L873.4,419.2 L871.7,418.5 L869.9,418.3 L868.1,418.5 L866.4,419.2 L864.9,420.3 L864.8,420.6 L864.7,420.5 L863.2,419.3 L861.5,418.6 L859.7,418.4 L857.9,418.6 L856.2,419.3 L854.8,420.5 L854.7,420.6 L853.3,420.0 L851.4,419.7 L849.6,420.0 L847.9,420.7 L846.5,421.8 L846.2,422.1 L844.5,421.9 L842.6,422.1 L841.0,422.8 L839.5,423.9 L838.4,425.4 L837.8,426.9 L837.1,426.4 L835.4,425.7 L833.6,425.4 L831.8,425.7 L830.1,426.4 L828.6,427.5 L827.5,428.9 L826.7,428.6 L824.9,428.4 L823.1,428.6 L821.4,429.3 L820.5,430.0 L819.7,429.6 L817.9,429.4 L816.1,429.6 L814.4,430.3 L812.9,431.4 L811.8,432.9 L811.1,434.6 L810.1,434.1 L808.3,433.9 L806.5,434.1 L804.8,434.8 L803.3,435.9 L802.2,437.4 L802.2,437.3 L800.4,437.1 L798.6,437.3 L796.9,438.0 L796.5,438.3 L796.3,438.1 L794.6,437.4 L792.8,437.2 L791.0,437.4 L789.3,438.1 L787.8,439.2 L787.4,439.8 L786.2,439.3 L784.4,439.1 L782.6,439.3 L780.9,440.0 L779.4,441.1 L778.3,442.6 L777.6,444.3 L777.5,444.9 L776.8,444.3 L775.1,443.6 L773.3,443.3 L771.5,443.6 L769.8,444.3 L769.0,444.9 L768.7,444.8 L766.9,444.5 L765.1,444.8 L763.4,445.5 L762.4,446.2 L760.9,445.1 L759.2,444.4 L757.4,444.2 L755.6,444.4 L753.9,445.1 L752.5,446.2 L752.4,446.3 L752.4,446.2 L750.7,445.5 L748.9,445.3 L747.1,445.5 L745.4,446.2 L743.9,447.3 L743.3,448.2 L742.7,447.7 L741.0,447.0 L739.2,446.7 L737.3,447.0 L735.7,447.7 L734.2,448.8 L734.0,449.1 L733.9,449.0 L732.0,448.8 L730.1,449.0 L728.4,449.8 L726.9,450.9 L725.8,452.4 L725.8,452.4 L724.7,453.2 L723.9,454.3 L723.3,454.2 L721.5,454.5 L719.8,455.2 L718.8,455.9 L718.4,455.6 L716.7,454.9 L714.9,454.7 L713.1,454.9 L712.3,455.3 L711.6,454.8 L709.9,454.0 L708.0,453.8 L706.1,454.0 L704.4,454.8 L702.9,455.9 L701.8,457.4 L701.0,459.1 L700.8,460.8 L700.5,461.5 L700.4,462.7 L699.9,462.3 L698.2,461.6 L696.4,461.3 L694.6,461.6 L692.9,462.3 L691.4,463.4 L691.3,463.5 L690.5,463.2 L688.7,463.0 L686.9,463.2 L685.2,463.9 L684.6,464.3 L683.8,463.7 L682.1,463.0 L681.0,462.8 L681.0,462.1 L680.2,460.4 L679.1,458.9 L677.6,457.8 L675.9,457.0 L674.0,456.8 L672.1,457.0 L670.4,457.8 L670.2,457.9 L669.6,458.0 L667.9,458.7 L666.4,459.8 L665.3,461.2 L664.6,462.9 L664.6,463.3 L663.7,463.1 L661.8,463.4 L660.2,464.1 L659.2,464.8 L658.8,464.6 L657.0,464.4 L655.2,464.6 L653.5,465.3 L652.0,466.4 L651.1,465.2 L649.6,464.1 L647.9,463.4 L646.1,463.2 L645.1,463.3 L644.1,461.9 L642.6,460.8 L640.9,460.0 L639.0,459.8 L637.1,460.0 L635.4,460.8 L633.9,461.9 L632.8,463.4 L632.0,465.1 L631.8,467.0 L632.0,468.9 L632.1,469.0 L631.1,469.4 L629.7,470.5 L628.5,472.0 L628.5,472.1 L628.0,471.8 L626.2,471.6 L624.4,471.8 L623.2,472.3 L621.8,471.3 L620.1,470.6 L618.3,470.3 L616.5,470.6 L614.8,471.3 L613.3,472.4 L612.2,473.8 L612.0,474.4 L611.6,473.8 L610.1,472.7 L608.5,472.0 L606.6,471.8 L604.8,472.0 L603.1,472.7 L602.3,473.4 L602.1,473.3 L600.4,472.6 L598.6,472.3 L596.8,472.6 L595.1,473.3 L593.7,474.4 L593.5,474.7 L592.3,473.7 L590.6,473.0 L588.8,472.8 L586.9,473.0 L585.3,473.7 L585.1,473.8 L583.5,473.1 L581.6,472.9 L579.8,473.1 L579.3,473.4 L579.2,473.1 L578.1,471.7 L576.7,470.6 L575.0,469.9 L573.2,469.6 L571.3,469.9 L570.6,470.2 L570.8,469.0 L570.6,467.1 L569.8,465.4 L568.7,463.9 L567.2,462.8 L565.5,462.0 L563.6,461.8 L561.7,462.0 L560.0,462.8 L558.5,463.9 L557.4,465.4 L556.6,467.1 L556.4,469.0 L556.6,470.9 L557.4,472.6 L558.0,473.5 L557.7,474.2 L557.6,474.8 L556.0,475.5 L554.5,476.6 L553.4,478.0 L552.7,479.7 L551.1,479.5 L549.2,479.7 L547.6,480.4 L546.1,481.5 L545.5,482.3 L544.8,482.1 L543.3,481.9 L544.2,480.6 L545.0,478.9 L545.2,477.0 L545.0,475.1 L544.2,473.4 L543.1,471.9 L541.6,470.8 L539.9,470.0 L538.0,469.8 L536.1,470.0 L534.4,470.8 L532.9,471.9 L531.8,473.4 L531.0,475.1 L530.8,477.0 L530.9,477.9 L530.7,478.1 L529.6,477.7 L527.8,477.4 L526.0,477.7 L524.3,478.4 L523.3,479.2 L522.0,478.7 L520.2,478.4 L518.4,478.7 L516.7,479.4 L515.3,480.5 L514.2,481.9 L512.8,481.3 L510.9,481.1 L509.1,481.3 L507.4,482.0 L506.0,483.1 L505.6,483.7 L505.4,483.5 L503.7,482.8 L502.7,482.7 L502.0,481.0 L502.0,480.9 L502.2,480.6 L503.0,478.9 L503.2,477.0 L503.0,475.1 L502.2,473.4 L501.1,471.9 L499.6,470.8 L497.9,470.0 L496.0,469.8 L494.1,470.0 L492.4,470.8 L490.9,471.9 L489.8,473.4 L489.0,475.1 L488.8,476.8 L487.2,476.6 L485.4,476.8 L483.7,477.5 L482.3,478.6 L481.6,479.6 L481.5,479.5 L479.8,478.8 L478.0,478.5 L476.1,478.8 L474.5,479.5 L473.6,480.1 L473.0,479.6 L471.3,478.9 L469.5,478.7 L467.7,478.9 L466.0,479.6 L465.8,479.8 L465.4,479.4 L464.1,478.4 L464.0,477.1 L463.2,475.4 L462.1,473.9 L460.6,472.8 L458.9,472.0 L457.0,471.8 L455.1,472.0 L453.4,472.8 L451.9,473.9 L450.8,475.4 L450.0,477.1 L449.8,479.0 L449.9,479.8 L449.6,480.0 L448.5,481.5 L447.8,483.1 L447.7,483.8 L447.7,483.8 L446.0,483.1 L444.2,482.8 L442.4,483.1 L440.7,483.8 L439.2,484.9 L439.0,485.2 L438.6,485.0 L436.9,484.3 L435.1,484.1 L433.3,484.3 L431.6,485.0 L430.7,485.7 L429.6,484.8 L427.9,484.1 L426.1,483.9 L424.3,484.1 L424.0,484.2 L423.9,484.1 L422.4,483.0 L420.7,482.3 L418.9,482.0 L417.1,482.3 L415.4,483.0 L414.7,483.5 L413.7,482.3 L412.3,481.1 L410.6,480.4 L408.8,480.2 L407.0,480.4 L406.2,480.8 L406.1,480.0 L407.4,480.2 L409.3,480.0 L411.0,479.2 L412.5,478.1 L413.6,476.6 L414.4,474.9 L414.6,473.0 L414.4,471.1 L413.6,469.4 L412.5,467.9 L411.0,466.8 L409.3,466.0 L407.4,465.8 L405.5,466.0 L403.8,466.8 L402.3,467.9 L401.2,469.4 L400.4,471.1 L400.2,473.0 L400.3,474.0 L399.0,473.8 L397.1,474.0 L395.4,474.8 L393.9,475.9 L392.8,477.4 L392.0,479.1 L391.8,481.0 L392.0,482.9 L392.8,484.6 L393.7,485.8 L393.5,486.8 L393.7,488.2 L393.0,488.5 L391.6,489.6 L391.1,490.3 L390.1,489.9 L390.2,489.0 L390.0,487.1 L389.2,485.4 L388.1,483.9 L386.6,482.8 L384.9,482.0 L383.0,481.8 L381.1,482.0 L379.4,482.8 L377.9,483.9 L376.8,485.4 L376.1,487.0 L374.8,488.0 L374.6,488.4 L374.0,488.1 L372.1,487.9 L370.3,488.1 L368.6,488.8 L368.6,488.9 L368.6,488.7 L368.0,487.4 L368.2,486.0 L368.0,484.1 L367.2,482.4 L366.1,480.9 L364.6,479.8 L362.9,479.0 L361.0,478.8 L359.1,479.0 L357.4,479.8 L355.9,480.9 L354.8,482.4 L354.0,484.1 L353.9,485.5 L352.4,485.7 L350.8,486.4 L349.3,487.5 L348.2,488.9 L348.0,489.4 L347.0,489.0 L345.1,488.8 L343.3,489.0 L341.6,489.7 L340.2,490.8 L339.1,492.3 L338.8,493.0 L338.8,493.0 L337.0,493.3 L335.3,494.0 L333.8,495.1 L332.7,496.5 L332.0,498.1 L331.4,498.0 L329.6,498.3 L327.9,499.0 L327.7,499.2 L327.4,498.5 L326.3,497.0 L324.8,495.9 L323.1,495.2 L321.3,495.0 L319.5,495.2 L318.3,495.7 L317.9,495.2 L316.4,494.1 L314.7,493.4 L312.9,493.1 L311.1,493.4 L310.0,493.8 L309.7,493.4 L308.2,492.3 L306.6,491.6 L304.7,491.3 L303.0,491.6 L303.0,491.5 L301.9,490.1 L300.4,489.0 L298.7,488.3 L298.4,488.2 L299.0,486.9 L299.2,485.0 L299.0,483.1 L298.2,481.4 L297.1,479.9 L295.6,478.8 L293.9,478.0 L292.0,477.8 L290.1,478.0 L288.4,478.8 L286.9,479.9 L285.8,481.4 L285.0,483.1 L284.8,485.0 L285.0,486.9 L285.8,488.6 L286.1,489.0 L286.0,489.0 L284.3,489.7 L282.8,490.9 L281.7,492.3 L281.6,492.7 L281.1,492.7 L279.3,492.9 L277.6,493.6 L276.1,494.7 L275.0,496.2 L274.5,497.6 L273.9,497.5 L272.1,497.7 L270.4,498.4 L269.0,499.5 L268.0,500.8 L267.6,500.5 L265.9,499.8 L264.1,499.5 L262.2,499.8 L261.4,500.1 L261.3,499.8 L260.1,498.4 L258.7,497.2 L257.0,496.5 L255.2,496.3 L253.4,496.5 L252.8,496.8 L252.7,496.7 L251.6,495.2 L250.2,494.1 L248.5,493.4 L247.0,493.2 L247.2,492.0 L247.0,490.1 L246.2,488.4 L245.1,486.9 L243.6,485.8 L242.2,485.2 L243.0,483.5 L243.2,481.6 L243.0,479.7 L242.2,478.0 L241.1,476.5 L239.6,475.4 L237.9,474.6 L236.0,474.4 L234.1,474.6 L232.4,475.4 L230.9,476.5 L229.8,478.0 L229.0,479.7 L228.8,481.6 L229.0,483.5 L229.8,485.2 L230.9,486.7 L232.4,487.8 L233.8,488.4 L233.0,490.1 L232.8,492.0 L233.0,493.9 L233.7,495.5 L233.4,496.0 L232.8,497.3 L232.5,497.1 L230.7,496.9 L228.9,497.1 L227.2,497.8 L225.8,498.9 L224.9,500.1 L224.0,499.7 L222.2,499.5 L221.0,499.6 L220.8,498.5 L220.1,496.9 L219.0,495.4 L217.6,494.3 L217.2,494.1 L217.2,494.0 L217.0,492.1 L216.2,490.4 L215.1,488.9 L213.6,487.8 L211.9,487.0 L210.0,486.8 L208.1,487.0 L206.4,487.8 L204.9,488.9 L203.8,490.4 L203.0,492.1 L202.9,493.5 L201.9,493.0 L200.0,492.8 L198.1,493.0 L196.4,493.8 L194.9,494.9 L193.8,496.4 L193.0,498.1 L192.8,500.0 L193.0,501.7 L192.7,501.7 L190.9,501.9 L189.2,502.6 L187.8,503.7 L186.8,503.3 L185.0,503.0 L183.4,503.2 L183.5,503.2 L183.4,502.7 L184.2,501.6 L185.0,499.9 L185.2,498.0 L185.0,496.1 L184.2,494.4 L183.1,492.9 L181.6,491.8 L179.9,491.0 L178.0,490.8 L178.6,490.0 L179.4,488.3 L179.6,486.4 L179.4,484.5 L178.6,482.8 L177.5,481.3 L176.0,480.2 L174.3,479.4 L172.4,479.2 L170.5,479.4 L168.8,480.2 L167.3,481.3 L166.2,482.8 L165.4,484.5 L165.2,486.4 L165.2,486.7 L164.6,486.2 L162.9,485.4 L161.0,485.2 L159.1,485.4 L157.4,486.2 L156.1,487.2 L155.6,486.8 L153.9,486.0 L152.0,485.8 L150.1,486.0 L148.7,486.7 L148.8,485.6 L148.6,483.7 L147.8,482.0 L146.7,480.5 L145.2,479.4 L143.5,478.6 L141.6,478.4 L139.7,478.6 L138.0,479.4 L136.5,480.5 L135.4,482.0 L134.6,483.7 L134.4,485.6 L134.6,487.5 L135.4,489.2 L136.5,490.7 L138.0,491.8 L139.7,492.6 L141.6,492.8 L143.5,492.6 L144.9,491.9 L144.8,493.0 L145.0,494.9 L145.8,496.6 L146.7,497.8 L145.5,498.3ZM169.5,494.9 L169.1,495.0 L168.9,494.5 L168.1,493.4 L168.2,492.4 L168.2,492.1 L168.8,492.6 L170.5,493.4 L172.4,493.6 L171.8,494.4 L171.4,495.2 L171.3,495.2ZM763.5,578.0 L762.0,586.0 L762.0,593.0 L757.0,593.0 L756.0,585.0 L755.0,578.0 L752.0,573.0 L765.0,573.0ZM724.0,612.0 L722.0,619.0 L714.0,619.0 L712.0,610.0 L719.0,608.0ZM814.0,558.0 L818.7,559.0 L817.0,565.0 L815.0,565.0ZM814.2,574.4 L814.2,574.0 L814.2,573.6 L814.3,573.3 L814.5,573.0 L814.6,572.7 L814.9,572.5 L815.1,572.3 L815.4,572.2 L815.7,572.2 L816.0,572.2 L816.3,572.3 L816.5,572.5 L816.8,572.7 L816.9,573.0 L817.1,573.3 L817.2,573.6 L817.2,574.0 L817.2,574.4 L817.1,574.7 L816.9,575.0 L816.8,575.3 L816.5,575.5 L816.3,575.7 L816.0,575.8 L815.7,575.8 L815.4,575.8 L815.1,575.7 L814.9,575.5 L814.6,575.3 L814.5,575.0 L814.3,574.7ZM842.0,573.0 L838.0,567.0 L842.0,566.5 L847.5,573.0 L845.0,575.5ZM862.0,572.5 L857.0,571.0 L855.0,566.0 L860.0,564.0 L865.6,566.0ZM776.7,591.8 L776.6,591.4 L776.4,591.0 L776.3,590.5 L776.3,590.0 L776.3,589.5 L776.4,589.0 L776.6,588.6 L776.7,588.2 L777.0,587.9 L777.2,587.7 L777.5,587.5 L777.8,587.5 L778.1,587.5 L778.4,587.7 L778.6,587.9 L778.9,588.2 L779.0,588.6 L779.2,589.0 L779.3,589.5 L779.3,590.0 L779.3,590.5 L779.2,591.0 L779.0,591.4 L778.9,591.8 L778.6,592.1 L778.4,592.3 L778.1,592.5 L777.8,592.5 L777.5,592.5 L777.2,592.3 L777.0,592.1ZM747.6,615.7 L747.2,615.4 L746.9,615.1 L746.7,614.8 L746.5,614.4 L746.5,614.0 L746.5,613.6 L746.7,613.2 L746.9,612.9 L747.2,612.6 L747.6,612.3 L748.0,612.2 L748.5,612.0 L749.0,612.0 L749.5,612.0 L750.0,612.2 L750.4,612.3 L750.8,612.6 L751.1,612.9 L751.3,613.2 L751.5,613.6 L751.5,614.0 L751.5,614.4 L751.3,614.8 L751.1,615.1 L750.8,615.4 L750.4,615.7 L750.0,615.8 L749.5,616.0 L749.0,616.0 L748.5,616.0 L748.0,615.8ZM165.9,516.2 L165.3,515.9 L164.9,515.5 L164.5,514.9 L164.2,514.3 L164.1,513.7 L164.0,513.0 L164.1,512.3 L164.2,511.7 L164.5,511.1 L164.9,510.5 L165.3,510.1 L165.9,509.8 L166.4,509.6 L167.0,509.5 L167.6,509.6 L168.1,509.8 L168.7,510.1 L169.1,510.5 L169.5,511.1 L169.8,511.7 L169.9,512.3 L170.0,513.0 L169.9,513.7 L169.8,514.3 L169.5,514.9 L169.1,515.5 L168.7,515.9 L168.1,516.2 L167.6,516.4 L167.0,516.5 L166.4,516.4ZM560.7,620.0 L560.4,619.8 L560.1,619.7 L559.9,619.4 L559.7,619.1 L559.5,618.8 L559.4,618.4 L559.4,618.0 L559.4,617.6 L559.5,617.2 L559.7,616.9 L559.9,616.6 L560.1,616.3 L560.4,616.2 L560.7,616.0 L561.0,616.0 L561.3,616.0 L561.6,616.2 L561.9,616.3 L562.1,616.6 L562.3,616.9 L562.5,617.2 L562.6,617.6 L562.6,618.0 L562.6,618.4 L562.5,618.8 L562.3,619.1 L562.1,619.4 L561.9,619.7 L561.6,619.8 L561.3,620.0 L561.0,620.0ZM571.5,623.2 L571.2,623.2 L571.0,623.0 L570.7,622.8 L570.5,622.6 L570.3,622.2 L570.2,621.8 L570.1,621.4 L570.1,621.0 L570.1,620.6 L570.2,620.2 L570.3,619.8 L570.5,619.4 L570.7,619.2 L571.0,619.0 L571.2,618.8 L571.5,618.8 L571.8,618.8 L572.0,619.0 L572.3,619.2 L572.5,619.4 L572.7,619.8 L572.8,620.2 L572.9,620.6 L572.9,621.0 L572.9,621.4 L572.8,621.8 L572.7,622.2 L572.5,622.6 L572.3,622.8 L572.0,623.0 L571.8,623.2ZM618.8,600.8 L618.5,600.8 L618.2,600.8 L617.9,600.7 L617.7,600.5 L617.4,600.3 L617.3,600.0 L617.1,599.7 L617.0,599.4 L617.0,599.0 L617.0,598.6 L617.1,598.3 L617.3,598.0 L617.4,597.7 L617.7,597.5 L617.9,597.3 L618.2,597.2 L618.5,597.2 L618.8,597.2 L619.1,597.3 L619.3,597.5 L619.6,597.7 L619.7,598.0 L619.9,598.3 L620.0,598.6 L620.0,599.0 L620.0,599.4 L619.9,599.7 L619.7,600.0 L619.6,600.3 L619.3,600.5 L619.1,600.7ZM671.0,614.2 L670.8,614.3 L670.5,614.3 L670.2,614.3 L670.0,614.2 L669.8,614.1 L669.6,613.9 L669.4,613.7 L669.3,613.5 L669.2,613.3 L669.2,613.0 L669.2,612.7 L669.3,612.5 L669.4,612.3 L669.6,612.1 L669.8,611.9 L670.0,611.8 L670.2,611.7 L670.5,611.7 L670.8,611.7 L671.0,611.8 L671.2,611.9 L671.4,612.1 L671.6,612.3 L671.7,612.5 L671.8,612.7 L671.8,613.0 L671.8,613.3 L671.7,613.5 L671.6,613.7 L671.4,613.9 L671.2,614.1ZM688.8,611.0 L688.6,611.1 L688.3,611.2 L688.0,611.2 L687.7,611.2 L687.4,611.1 L687.2,611.0 L686.9,610.8 L686.8,610.7 L686.6,610.5 L686.5,610.2 L686.5,610.0 L686.5,609.8 L686.6,609.5 L686.8,609.3 L686.9,609.2 L687.2,609.0 L687.4,608.9 L687.7,608.8 L688.0,608.8 L688.3,608.8 L688.6,608.9 L688.8,609.0 L689.1,609.2 L689.2,609.3 L689.4,609.5 L689.5,609.8 L689.5,610.0 L689.5,610.2 L689.4,610.5 L689.2,610.7 L689.1,610.8ZM896.9,481.4 L896.7,481.7 L896.5,481.8 L896.3,482.0 L896.0,482.0 L895.7,482.0 L895.5,481.8 L895.3,481.7 L895.1,481.4 L894.9,481.1 L894.8,480.8 L894.7,480.4 L894.7,480.0 L894.7,479.6 L894.8,479.2 L894.9,478.9 L895.1,478.6 L895.3,478.3 L895.5,478.2 L895.7,478.0 L896.0,478.0 L896.3,478.0 L896.5,478.2 L896.7,478.3 L896.9,478.6 L897.1,478.9 L897.2,479.2 L897.3,479.6 L897.3,480.0 L897.3,480.4 L897.2,480.8 L897.1,481.1ZM900.8,492.8 L900.7,493.1 L900.6,493.2 L900.4,493.4 L900.2,493.5 L900.0,493.5 L899.8,493.5 L899.6,493.4 L899.4,493.2 L899.3,493.1 L899.2,492.8 L899.1,492.6 L899.0,492.3 L899.0,492.0 L899.0,491.7 L899.1,491.4 L899.2,491.2 L899.3,490.9 L899.4,490.8 L899.6,490.6 L899.8,490.5 L900.0,490.5 L900.2,490.5 L900.4,490.6 L900.6,490.8 L900.7,490.9 L900.8,491.2 L900.9,491.4 L901.0,491.7 L901.0,492.0 L901.0,492.3 L900.9,492.6ZM709.7,596.6 L709.5,596.8 L709.3,597.1 L709.0,597.2 L708.7,597.4 L708.4,597.5 L708.0,597.5 L707.6,597.5 L707.3,597.4 L707.0,597.2 L706.7,597.1 L706.5,596.8 L706.3,596.6 L706.2,596.3 L706.2,596.0 L706.2,595.7 L706.3,595.4 L706.5,595.2 L706.7,594.9 L707.0,594.8 L707.3,594.6 L707.6,594.5 L708.0,594.5 L708.4,594.5 L708.7,594.6 L709.0,594.8 L709.3,594.9 L709.5,595.2 L709.7,595.4 L709.8,595.7 L709.8,596.0 L709.8,596.3ZM737.0,583.3 L736.9,583.5 L736.8,583.7 L736.7,583.9 L736.6,584.1 L736.4,584.2 L736.2,584.3 L736.0,584.3 L735.8,584.3 L735.6,584.2 L735.4,584.1 L735.3,583.9 L735.2,583.7 L735.1,583.5 L735.0,583.3 L735.0,583.0 L735.0,582.7 L735.1,582.5 L735.2,582.3 L735.3,582.1 L735.4,581.9 L735.6,581.8 L735.8,581.7 L736.0,581.7 L736.2,581.7 L736.4,581.8 L736.6,581.9 L736.7,582.1 L736.8,582.3 L736.9,582.5 L737.0,582.7 L737.0,583.0ZM339.6,460.0 L338.5,458.5 L337.0,457.4 L335.3,456.6 L333.4,456.4 L331.5,456.6 L329.8,457.4 L328.3,458.5 L327.2,460.0 L326.4,461.7 L326.2,463.6 L326.4,465.5 L327.2,467.2 L328.3,468.7 L329.8,469.8 L331.5,470.6 L333.4,470.8 L335.3,470.6 L337.0,469.8 L338.5,468.7 L339.6,467.2 L340.4,465.5 L340.6,463.6 L340.4,461.7ZM252.1,475.4 L250.4,476.2 L248.9,477.3 L247.8,478.8 L247.0,480.5 L246.8,482.4 L247.0,484.3 L247.8,486.0 L248.9,487.5 L250.4,488.6 L252.1,489.4 L254.0,489.6 L255.9,489.4 L257.6,488.6 L259.1,487.5 L260.2,486.0 L260.6,485.1 L261.0,485.2 L262.9,485.0 L264.6,484.2 L266.1,483.1 L267.2,481.6 L268.0,479.9 L268.2,478.0 L268.0,476.1 L267.2,474.4 L267.1,474.3 L268.4,475.2 L270.1,476.0 L272.0,476.2 L273.9,476.0 L275.6,475.2 L277.1,474.1 L278.2,472.6 L279.0,470.9 L279.2,469.0 L279.0,467.1 L278.2,465.4 L277.1,463.9 L275.6,462.8 L273.9,462.0 L272.0,461.8 L270.1,462.0 L268.4,462.8 L266.9,463.9 L265.8,465.4 L265.0,467.1 L264.8,469.0 L265.0,470.9 L265.8,472.6 L265.9,472.7 L264.6,471.8 L262.9,471.0 L261.0,470.8 L260.5,470.9 L260.0,470.8 L258.1,471.0 L256.4,471.8 L254.9,472.9 L253.8,474.4 L253.4,475.3ZM353.1,473.9 L351.6,472.8 L349.9,472.0 L348.0,471.8 L346.1,472.0 L344.4,472.8 L342.9,473.9 L341.8,475.4 L341.0,477.1 L340.8,479.0 L341.0,480.9 L341.8,482.6 L342.9,484.1 L344.4,485.2 L346.1,486.0 L348.0,486.2 L349.9,486.0 L351.6,485.2 L353.1,484.1 L354.2,482.6 L355.0,480.9 L355.2,479.0 L355.0,477.1 L354.2,475.4ZM334.8,476.8 L333.7,475.3 L332.2,474.2 L330.5,473.4 L328.6,473.2 L326.7,473.4 L325.0,474.2 L323.5,475.3 L322.4,476.8 L321.6,478.5 L321.4,480.4 L321.6,482.3 L322.4,484.0 L323.5,485.5 L325.0,486.6 L326.7,487.4 L328.6,487.6 L330.5,487.4 L332.2,486.6 L333.7,485.5 L334.8,484.0 L335.6,482.3 L335.8,480.4 L335.6,478.5ZM480.6,463.8 L479.5,462.3 L478.0,461.2 L476.3,460.4 L474.4,460.2 L472.5,460.4 L470.8,461.2 L469.3,462.3 L468.2,463.8 L467.4,465.5 L467.2,467.4 L467.4,469.3 L468.2,471.0 L469.3,472.5 L470.8,473.6 L472.5,474.4 L474.4,474.6 L476.3,474.4 L478.0,473.6 L479.5,472.5 L480.6,471.0 L481.4,469.3 L481.6,467.4 L481.4,465.5ZM380.8,470.0 L379.7,468.5 L378.2,467.4 L376.5,466.6 L374.6,466.4 L372.7,466.6 L371.0,467.4 L369.5,468.5 L368.4,470.0 L367.6,471.7 L367.4,473.6 L367.6,475.5 L368.4,477.2 L369.5,478.7 L371.0,479.8 L372.7,480.6 L374.6,480.8 L376.5,480.6 L378.2,479.8 L379.7,478.7 L380.8,477.2 L381.6,475.5 L381.8,473.6 L381.6,471.7ZM448.1,468.5 L446.6,467.4 L444.9,466.6 L443.0,466.4 L441.1,466.6 L439.4,467.4 L437.9,468.5 L436.8,470.0 L436.0,471.7 L435.8,473.6 L436.0,475.5 L436.8,477.2 L437.9,478.7 L439.4,479.8 L441.1,480.6 L443.0,480.8 L444.9,480.6 L446.6,479.8 L448.1,478.7 L449.2,477.2 L450.0,475.5 L450.2,473.6 L450.0,471.7 L449.2,470.0ZM591.8,457.4 L590.7,455.9 L589.2,454.8 L587.5,454.0 L585.6,453.8 L583.7,454.0 L582.0,454.8 L580.5,455.9 L579.4,457.4 L578.6,459.1 L578.4,461.0 L578.6,462.9 L579.4,464.6 L580.5,466.1 L582.0,467.2 L583.7,468.0 L585.6,468.2 L587.5,468.0 L589.2,467.2 L590.7,466.1 L591.8,464.6 L592.6,462.9 L592.8,461.0 L592.6,459.1ZM813.0,628.2 L814.9,628.0 L816.6,627.2 L818.1,626.1 L819.2,624.6 L820.0,622.9 L820.2,621.0 L820.0,619.1 L819.2,617.4 L818.1,615.9 L816.6,614.8 L814.9,614.0 L813.0,613.8 L811.1,614.0 L809.4,614.8 L808.6,615.4 L808.2,614.4 L807.1,612.9 L805.6,611.8 L803.9,611.0 L802.0,610.8 L800.1,611.0 L798.4,611.8 L796.9,612.9 L795.8,614.4 L795.0,616.1 L794.8,618.0 L795.0,619.9 L795.8,621.6 L796.9,623.1 L798.4,624.2 L800.1,625.0 L802.0,625.2 L803.9,625.0 L805.6,624.2 L806.4,623.6 L806.8,624.6 L807.9,626.1 L809.4,627.2 L811.1,628.0ZM902.6,581.4 L901.5,579.9 L900.0,578.8 L898.3,578.0 L896.4,577.8 L894.5,578.0 L892.8,578.8 L891.3,579.9 L890.2,581.4 L889.4,583.1 L889.2,585.0 L889.4,586.9 L890.2,588.6 L891.3,590.1 L892.8,591.2 L894.5,592.0 L896.4,592.2 L898.3,592.0 L900.0,591.2 L901.5,590.1 L902.6,588.6 L903.4,586.9 L903.6,585.0 L903.4,583.1ZM880.7,592.5 L879.2,591.4 L877.5,590.6 L875.6,590.4 L873.7,590.6 L872.0,591.4 L870.5,592.5 L869.4,594.0 L868.6,595.7 L868.4,597.6 L868.6,599.5 L869.4,601.2 L870.5,602.7 L872.0,603.8 L873.7,604.6 L875.6,604.8 L877.5,604.6 L879.2,603.8 L880.7,602.7 L881.8,601.2 L882.6,599.5 L882.8,597.6 L882.6,595.7 L881.8,594.0ZM899.5,598.5 L898.0,597.4 L896.3,596.6 L894.4,596.4 L892.5,596.6 L890.8,597.4 L889.3,598.5 L888.2,600.0 L887.4,601.7 L887.2,603.6 L887.4,605.5 L888.2,607.2 L889.3,608.7 L890.8,609.8 L892.5,610.6 L894.4,610.8 L896.3,610.6 L898.0,609.8 L899.5,608.7 L900.6,607.2 L901.4,605.5 L901.6,603.6 L901.4,601.7 L900.6,600.0ZM851.8,622.6 L852.9,624.1 L854.4,625.2 L856.1,626.0 L858.0,626.2 L859.9,626.0 L861.6,625.2 L863.1,624.1 L864.2,622.6 L865.0,620.9 L865.2,619.3 L866.4,620.2 L868.1,621.0 L870.0,621.2 L871.9,621.0 L873.6,620.2 L875.1,619.1 L876.2,617.6 L877.0,615.9 L877.2,614.0 L877.0,612.1 L876.2,610.4 L875.1,608.9 L873.6,607.8 L871.9,607.0 L870.0,606.8 L868.1,607.0 L867.8,607.2 L868.0,606.9 L868.2,605.0 L868.0,603.1 L867.2,601.4 L866.1,599.9 L864.6,598.8 L862.9,598.0 L861.0,597.8 L859.1,598.0 L857.4,598.8 L855.9,599.9 L854.8,601.4 L854.0,603.1 L853.8,605.0 L854.0,606.9 L854.8,608.6 L855.9,610.1 L857.4,611.2 L859.1,611.9 L858.0,611.8 L856.1,612.0 L854.4,612.8 L852.9,613.9 L851.8,615.4 L851.0,617.1 L850.8,619.0 L851.0,620.9ZM863.0,612.1 L862.8,613.7 L861.6,612.8 L859.9,612.1 L861.0,612.2 L862.9,612.0 L863.2,611.8Z"/></g>
<line x1="88.8" y1="632.0" x2="915.1" y2="453.5" stroke="#0000ff" stroke-width="5"/>
<text x="89.6" y="686.5" class="tk" text-anchor="middle">0</text>
<text x="254.5" y="686.5" class="tk" text-anchor="middle">0.2</text>
<text x="419.4" y="686.5" class="tk" text-anchor="middle">0.4</text>
<text x="584.3" y="686.5" class="tk" text-anchor="middle">0.6</text>
<text x="749.2" y="686.5" class="tk" text-anchor="middle">0.8</text>
<text x="914.1" y="686.5" class="tk" text-anchor="middle">1</text>
<text x="77" y="657.0" class="tk" text-anchor="end">0</text>
<text x="77" y="537.5" class="tk" text-anchor="end">0.5</text>
<text x="77" y="418.1" class="tk" text-anchor="end">1</text>
<text x="501.8" y="728.3" class="lb" text-anchor="middle" xml:space="preserve">Observed  Values</text>
<text transform="translate(25,526.9) rotate(-90)" class="lb" text-anchor="middle" xml:space="preserve">Predicted  Values</text>
<text x="501.5" y="397.2" class="tt" text-anchor="middle">b</text>
<rect x="110.4" y="423.5" width="213.0" height="46.6" fill="#fff" stroke="#303030" stroke-width="1.5"/>
<circle cx="155.3" cy="446.8" r="7.5" fill="#000"/>
<text x="200.5" y="461.1" class="lg">R<tspan class="sup" dy="-12">2</tspan><tspan dy="12">:0.7853</tspan></text>
</svg>
</body></html>
